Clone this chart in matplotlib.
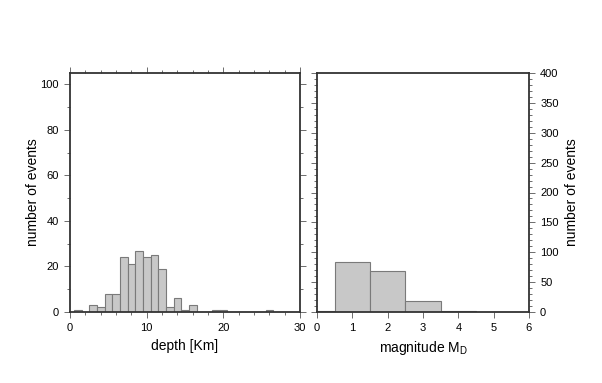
import matplotlib
matplotlib.use("Agg")
import matplotlib.pyplot as plt
from matplotlib.ticker import MultipleLocator

plt.rcParams['font.family'] = ['Liberation Sans', 'DejaVu Sans']

depth_centers = [1, 3, 4, 5, 6, 7, 8, 9, 10, 11, 12, 13, 14, 15, 16, 19, 20, 26]
depth_counts = [1, 3, 2, 8, 8, 24, 21, 27, 24, 25, 19, 2, 6, 1, 3, 1, 1, 1]

mag_centers = [0, 1, 2, 3, 4]
mag_counts = [2, 84, 69, 18, 2]

W, H = 602, 383
fig = plt.figure(figsize=(W / 100, H / 100), dpi=100)
axL = fig.add_axes([70 / W, (H - 312) / H, 230 / W, 239 / H])
axR = fig.add_axes([317 / W, (H - 312) / H, 212 / W, 239 / H])

fill = '#c8c8c8'
edge = '#7a7a7a'
frame = '#333333'

axL.bar(depth_centers, depth_counts, width=1.0, color=fill, edgecolor=edge, linewidth=0.8)
axR.bar(mag_centers, mag_counts, width=1.0, color=fill, edgecolor=edge, linewidth=0.8)

axL.set_xlim(0, 30)
axL.set_ylim(0, 105)
axR.set_xlim(0, 6)
axR.set_ylim(0, 400)

for ax in (axL, axR):
    for s in ax.spines.values():
        s.set_color(frame)
        s.set_linewidth(1.3)
    ax.tick_params(which='both', direction='out', color='#555555', labelsize=8, width=0.6)
    ax.tick_params(which='major', length=4.5)
    ax.tick_params(which='minor', length=2.5)

axL.xaxis.set_major_locator(MultipleLocator(10))
axL.xaxis.set_minor_locator(MultipleLocator(2))
axL.yaxis.set_major_locator(MultipleLocator(20))
axL.yaxis.set_minor_locator(MultipleLocator(10))
axL.tick_params(which='both', top=True, right=True, labeltop=False, labelright=False)
axL.set_xlabel('depth [Km]', fontsize=10, labelpad=4)
axL.set_ylabel('number of events', fontsize=10, labelpad=0)

axR.xaxis.set_major_locator(MultipleLocator(1))
axR.xaxis.set_minor_locator(MultipleLocator(1))
axR.yaxis.set_major_locator(MultipleLocator(50))
axR.yaxis.set_minor_locator(MultipleLocator(10))
axR.tick_params(which='both', top=False, left=True, right=True, labelleft=False, labelright=True)
axR.yaxis.set_label_position('right')
axR.set_xlabel('magnitude M$_\\mathregular{D}$', fontsize=10, labelpad=4)
axR.set_ylabel('number of events', fontsize=10, labelpad=4.5)

fig.savefig('out.png', dpi=100)
